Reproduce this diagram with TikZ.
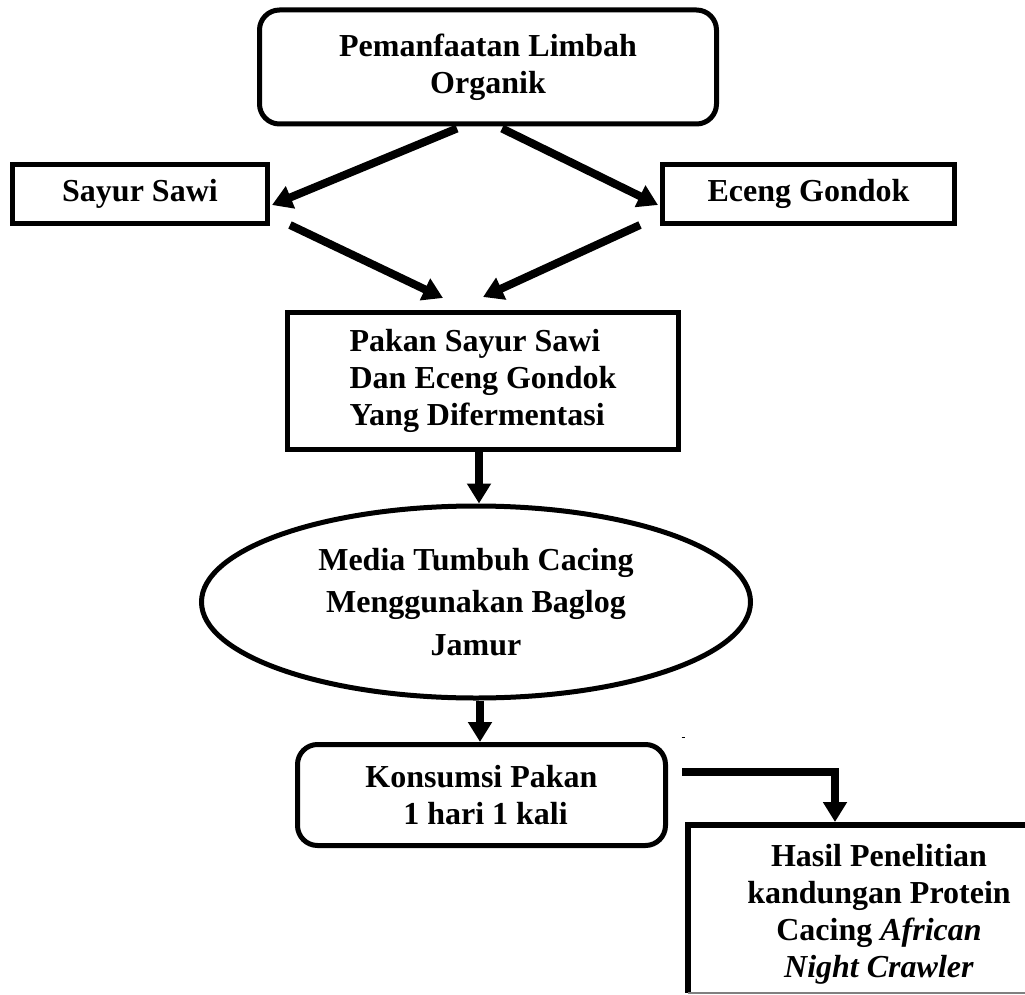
\documentclass[tikz,border=0pt]{standalone}
\usepackage{fontspec}
\setmainfont{Liberation Serif}
\usetikzlibrary{arrows.meta,shapes.geometric,calc}
\tikzset{
	kotak/.style={draw,line width=5pt,inner sep=0pt,align=center,font=\fontsize{32}{37}\selectfont\bfseries},
	panah/.style={line width=8pt,-{Triangle[length=20pt,width=23pt]}}
}
\begin{document}
\begin{tikzpicture}[x=1pt,y=-1pt,line join=miter]
	\useasboundingbox (0,0) rectangle (1025,995);
	\node[kotak,rounded corners=20pt,minimum width=457pt,minimum height=114pt] (limbah) at (488,67) {Pemanfaatan Limbah\\Organik};
	\node[kotak,minimum width=255pt,minimum height=59pt] (sawi) at (140,194) {Sayur Sawi};
	\node[kotak,minimum width=292pt,minimum height=59pt] (eceng) at (808.5,194) {Eceng Gondok};
	\node[kotak,align=left,minimum width=391pt,minimum height=137pt] (pakan) at (483,381) {Pakan Sayur Sawi\\Dan Eceng Gondok\\Yang Difermentasi};
	\node[kotak,ellipse,font=\fontsize{32}{42.5}\selectfont\bfseries,minimum width=549pt,minimum height=192pt] (media) at (476,602) {Media Tumbuh Cacing\\Menggunakan Baglog\\Jamur};
	\node[kotak,rounded corners=20pt,minimum width=368pt,minimum height=101pt] (konsumsi) at (481.5,795) {Konsumsi Pakan\\\ 1 hari 1 kali};
	\node[kotak,draw=none] (hasil) at (879,914) {Hasil Penelitian\\kandungan Protein\\Cacing \textit{African}\\\textit{Night Crawler}};
	\coordinate (pojok) at (688,825);
	\draw[line width=6pt] (1030,825) -- (pojok) -- (688,993);
	\draw[gray,line width=1.2pt] (688,993) -- (1025,993);
	\draw[panah] ($(limbah.south)+(-31,2)$) -- ($(sawi.east)+(2,11)$);
	\draw[panah] ($(limbah.south)+(14,2)$) -- ($(eceng.west)+(-2,11)$);
	\draw[panah] ($(sawi.east)+(20,31)$) -- ($(pakan.north)+(-40,-12)$);
	\draw[panah] ($(eceng.west)+(-20,31)$) -- ($(pakan.north)+(0,-13)$);
	\draw[panah] ([xshift=-4pt]pakan.south) -- ([xshift=-4pt]pakan.south |- media.north);
	\draw[panah] ([xshift=-1.5pt]konsumsi.north |- media.south) -- ([xshift=-1.5pt]konsumsi.north);
	\draw[panah] ($(konsumsi.east)+(14,-23)$) -| ($(pojok)+(147,-3)$);
	\draw[line width=1pt] (681.5,737) -- (684.5,737);
\end{tikzpicture}
\end{document}
